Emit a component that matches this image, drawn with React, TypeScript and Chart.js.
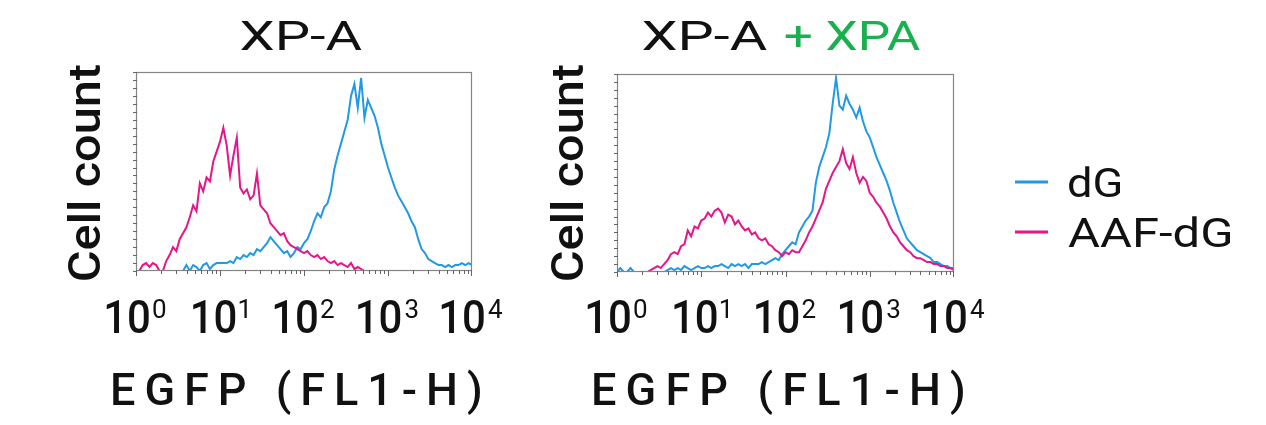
import React, { useEffect, useRef } from "react";
import { Chart, registerables } from "chart.js";

Chart.register(...registerables);

// ---- data ----
// FL1-H channels: 25 log-spaced bins per decade, 10^0 .. 10^4
const CHANNELS: number[] = Array.from({ length: 101 }, (_, i) => Math.pow(10, i / 25));
const DECADE_TICKS = [1, 10, 100, 1000, 10000];
const TICK_EXPONENTS = ["0", "1", "2", "3", "4"];
const SERIES_LABELS = ["dG", "AAF-dG"];
const PANEL_TITLES = ["XP-A", "XP-A", "+ XPA"];
const X_TITLE = "EGFP (FL1-H)";
const Y_TITLE = "Cell count";

// XP-A, dG (blue)
const XPA_DG = [
  0, 0, 0, 0, 0, 0, 0, 0, 0, 0,
  0, 0, 0, 0, 0, 3, 0, 3, 2, 0,
  3, 4, 1, 3, 4, 4, 4, 4, 5, 4,
  7, 6, 8, 7, 9, 8, 11, 10, 12, 14,
  17, 15, 13, 11, 9, 10, 7, 9, 12, 11,
  14, 16, 20, 25, 29, 27, 32, 34, 40, 51,
  58, 64, 70, 76, 88, 94, 82, 97, 77, 86,
  82, 78, 72, 64, 58, 52, 47, 42, 38, 35,
  32, 29, 25, 22, 16, 11, 9, 6, 5, 4,
  3, 3, 2, 3, 2, 3, 3, 4, 3, 4, 3,
];
// XP-A, AAF-dG (magenta)
const XPA_AAF = [
  0, 0, 3, 4, 2, 4, 3, 0, 0, 5,
  8, 12, 10, 16, 19, 22, 27, 33, 30, 44,
  40, 47, 45, 55, 60, 65, 72, 63, 48, 58,
  67, 42, 39, 41, 36, 38, 49, 33, 31, 29,
  24, 22, 20, 18, 19, 15, 13, 12, 11, 10,
  9, 10, 8, 7, 8, 6, 7, 5, 4, 5,
  3, 4, 3, 2, 4, 1, 2, 1, 0, 0,
  0, 0, 0, 0, 0, 0, 0, 0, 0, 0,
  0, 0, 0, 0, 0, 0, 0, 0, 0, 0,
  0, 0, 0, 0, 0, 0, 0, 0, 0, 0, 0,
];
// XP-A + XPA, dG (blue)
const XPAC_DG = [
  0, 2, 0, 0, 2, 0, 0, 0, 0, 0,
  0, 0, 0, 0, 0, 1, 2, 1, 2, 1,
  3, 2, 1, 2, 3, 2, 2, 3, 2, 3,
  3, 4, 3, 2, 4, 3, 4, 3, 4, 2,
  4, 4, 4, 5, 4, 5, 6, 7, 6, 9,
  11, 13, 15, 14, 20, 23, 26, 28, 31, 45,
  53, 58, 63, 70, 85, 98, 84, 82, 89, 85,
  82, 78, 83, 76, 71, 68, 63, 58, 54, 50,
  46, 41, 35, 30, 25, 21, 17, 15, 13, 11,
  10, 9, 8, 7, 5, 5, 4, 3, 3, 2, 2,
];
// XP-A + XPA, AAF-dG (magenta)
const XPAC_AAF = [
  0, 0, 0, 0, 0, 0, 0, 0, 0, 0,
  1, 2, 3, 2, 4, 6, 9, 10, 9, 13,
  14, 21, 18, 23, 22, 26, 27, 30, 28, 31,
  32, 30, 25, 29, 28, 24, 26, 23, 21, 22,
  19, 20, 17, 16, 17, 14, 13, 11, 10, 8,
  10, 9, 11, 10, 10, 13, 16, 20, 23, 27,
  31, 35, 42, 46, 50, 53, 56, 62, 55, 52,
  58, 50, 45, 48, 46, 40, 38, 35, 33, 30,
  27, 23, 20, 18, 15, 13, 11, 10, 8, 7,
  7, 6, 5, 5, 4, 4, 3, 3, 2, 2, 1,
];

// ---- style / layout ----
const W = 1266;
const H = 425;
const BLUE = "#2299e3";
const MAGENTA = "#e5168a";
const GREEN = "#1bb04f";
const INK = "#111111";
const FONT = "Roboto, 'DejaVu Sans', sans-serif";

type Panel = {
  l: number; t: number; r: number; b: number;
  yTitleX: number;
  xTitle: [number, number];
  legend: boolean;
  title: "left" | "right";
};

const PANELS: Panel[] = [
  { l: 136, t: 72, r: 472, b: 271, yTitleX: 100, xTitle: [113, 480], legend: false, title: "left" },
  { l: 617, t: 74, r: 954, b: 272, yTitleX: 583, xTitle: [594, 963], legend: true, title: "right" },
];

function drawFit(ctx: CanvasRenderingContext2D, text: string, x0: number, x1: number, baseline: number, font: string, color: string) {
  ctx.save();
  ctx.font = font;
  ctx.fillStyle = color;
  ctx.textAlign = "left";
  ctx.textBaseline = "alphabetic";
  const m = ctx.measureText(text);
  const inkW = m.actualBoundingBoxLeft + m.actualBoundingBoxRight;
  const sx = (x1 - x0) / inkW;
  ctx.translate(x0 + m.actualBoundingBoxLeft * sx, baseline);
  ctx.scale(sx, 1);
  ctx.fillText(text, 0, 0);
  ctx.restore();
}

function drawSpaced(ctx: CanvasRenderingContext2D, text: string, x0: number, x1: number, baseline: number, font: string, color: string) {
  ctx.save();
  ctx.font = font;
  ctx.fillStyle = color;
  ctx.textAlign = "left";
  ctx.textBaseline = "alphabetic";
  const chars = text.split("");
  const widths = chars.map((c) => ctx.measureText(c).width);
  const first = ctx.measureText(chars[0]);
  const last = ctx.measureText(chars[chars.length - 1]);
  const natural = widths.reduce((a, b) => a + b, 0);
  const inkNatural = natural + first.actualBoundingBoxLeft - (widths[widths.length - 1] - last.actualBoundingBoxRight);
  const gap = (x1 - x0 - inkNatural) / (chars.length - 1);
  let x = x0 + first.actualBoundingBoxLeft;
  chars.forEach((c, i) => {
    ctx.fillText(c, x, baseline);
    x += widths[i] + gap;
  });
  ctx.restore();
}

function decorPlugin(panel: Panel) {
  return {
    id: "decor",
    afterDraw(chart: any) {
      const ctx: CanvasRenderingContext2D = chart.ctx;
      const xs = chart.scales.x;
      const ys = chart.scales.y;
      const { left, top, right, bottom } = chart.chartArea;
      ctx.save();
      // frame
      ctx.strokeStyle = "#858585";
      ctx.lineWidth = 1.2;
      ctx.strokeRect(left + 0.5, top + 0.5, right - left - 1, bottom - top - 1);
      // y ticks
      ctx.strokeStyle = "#666";
      ctx.lineWidth = 1;
      for (let v = 0; v <= 100; v += 4) {
        const y = Math.round(ys.getPixelForValue(v)) + 0.5;
        ctx.beginPath();
        ctx.moveTo(left - 3, y);
        ctx.lineTo(left + 1, y);
        ctx.stroke();
      }
      // x ticks (log)
      for (let d = 0; d < 4; d++) {
        for (let m = 1; m <= 9; m++) {
          const v = m * Math.pow(10, d);
          const x = Math.round(xs.getPixelForValue(v)) + 0.5;
          ctx.beginPath();
          ctx.moveTo(x, bottom - 1);
          ctx.lineTo(x, bottom + (m === 1 ? 5 : 3));
          ctx.stroke();
        }
      }
      {
        const x = Math.round(xs.getPixelForValue(10000)) - 0.5;
        ctx.beginPath();
        ctx.moveTo(x, bottom - 1);
        ctx.lineTo(x, bottom + 5);
        ctx.stroke();
      }
      ctx.restore();

      // tick labels 10^n
      DECADE_TICKS.forEach((v, i) => {
        const cx = xs.getPixelForValue(v);
        ctx.save();
        ctx.font = `500 26px ${FONT}`;
        const sm = ctx.measureText(TICK_EXPONENTS[i]);
        const supW = sm.actualBoundingBoxLeft + sm.actualBoundingBoxRight;
        ctx.restore();
        const mainW = 43;
        const gap = 4;
        const total = mainW + gap + supW;
        const x0 = cx - total / 2;
        drawFit(ctx, "10", x0, x0 + mainW, 333, `500 46px ${FONT}`, INK);
        ctx.save();
        ctx.font = `400 26px ${FONT}`;
        ctx.fillStyle = INK;
        ctx.textAlign = "left";
        ctx.fillText(TICK_EXPONENTS[i], x0 + mainW + gap + sm.actualBoundingBoxLeft, 318);
        ctx.restore();
      });

      // x title
      drawSpaced(ctx, X_TITLE, panel.xTitle[0], panel.xTitle[1], 405, `500 45px ${FONT}`, INK);

      // y title (rotated)
      ctx.save();
      ctx.translate(panel.yTitleX, 172.5);
      ctx.rotate(-Math.PI / 2);
      drawFit(ctx, Y_TITLE, -107.5, 107.5, 0, `500 45px ${FONT}`, INK);
      ctx.restore();

      // panel title
      if (panel.title === "left") {
        drawFit(ctx, PANEL_TITLES[0], 241, 362, 50, `400 40px ${FONT}`, INK);
      } else {
        drawFit(ctx, PANEL_TITLES[1], 643, 767, 50, `400 40px ${FONT}`, INK);
        drawFit(ctx, PANEL_TITLES[2], 785, 920, 50, `400 40px ${FONT}`, GREEN);
      }

      // legend
      if (panel.legend) {
        const ds = chart.data.datasets;
        const rows = [
          { y: 182, base: 197, x1: 1120 },
          { y: 232, base: 247, x1: 1230 },
        ];
        ds.forEach((d: any, i: number) => {
          const r = rows[i];
          ctx.save();
          ctx.strokeStyle = d.borderColor;
          ctx.lineWidth = 3;
          ctx.beginPath();
          ctx.moveTo(1015, r.y);
          ctx.lineTo(1048, r.y);
          ctx.stroke();
          ctx.restore();
          drawFit(ctx, d.label, 1068, r.x1, r.base, `400 41px ${FONT}`, INK);
        });
      }
    },
  };
}

function PanelChart({ panel, dg, aaf }: { panel: Panel; dg: number[]; aaf: number[] }) {
  const ref = useRef<HTMLCanvasElement | null>(null);
  useEffect(() => {
    if (!ref.current) return;
    const chart = new Chart(ref.current, {
      type: "line",
      data: {
        datasets: [
          {
            label: SERIES_LABELS[0],
            data: CHANNELS.map((x, i) => ({ x, y: dg[i] })),
            borderColor: BLUE,
            borderWidth: 2,
            pointRadius: 0,
            tension: 0,
            order: 2,
          },
          {
            label: SERIES_LABELS[1],
            data: CHANNELS.map((x, i) => ({ x, y: aaf[i] })),
            borderColor: MAGENTA,
            borderWidth: 2,
            pointRadius: 0,
            tension: 0,
            order: 1,
          },
        ],
      },
      options: {
        animation: false,
        responsive: false,
        maintainAspectRatio: false,
        events: [],
        layout: {
          padding: { left: panel.l, top: panel.t, right: W - panel.r, bottom: H - panel.b },
        },
        scales: {
          x: { type: "logarithmic", min: 1, max: 10000, display: false },
          y: { type: "linear", min: 0, max: 100, display: false },
        },
        plugins: {
          legend: { display: false },
          tooltip: { enabled: false },
          title: { display: false },
        },
      } as any,
      plugins: [decorPlugin(panel)],
    });
    return () => chart.destroy();
  }, [panel, dg, aaf]);
  return (
    <canvas
      ref={ref}
      width={W}
      height={H}
      style={{ position: "absolute", left: 0, top: 0, width: W, height: H }}
    />
  );
}

export default function App() {
  return (
    <div style={{ position: "absolute", left: 0, top: 0, width: W, height: H, background: "#fff" }}>
      <PanelChart panel={PANELS[0]} dg={XPA_DG} aaf={XPA_AAF} />
      <PanelChart panel={PANELS[1]} dg={XPAC_DG} aaf={XPAC_AAF} />
    </div>
  );
}
